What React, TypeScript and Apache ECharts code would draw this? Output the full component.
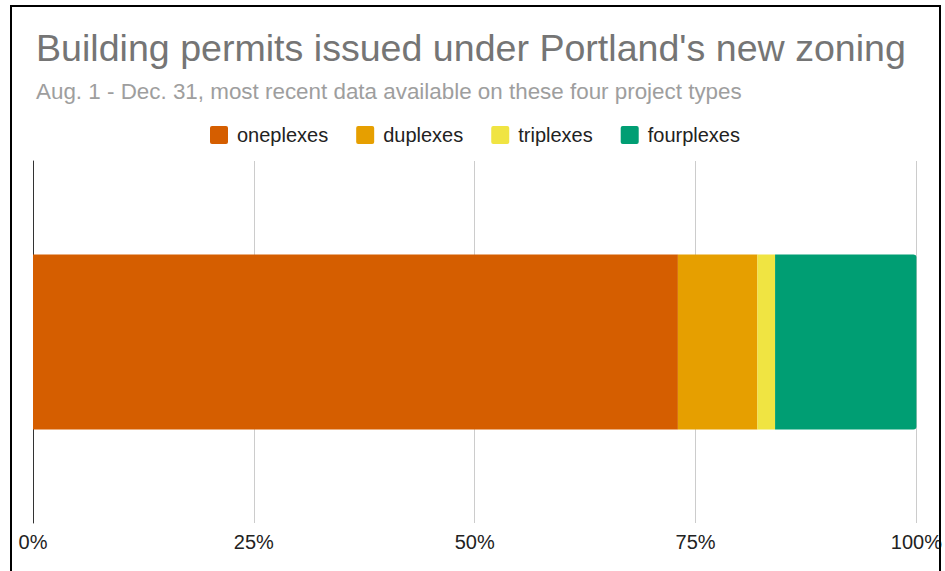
import React, { useEffect, useRef } from "react";
import * as echarts from "echarts";

const categories = ["Permits"];
const seriesNames = ["oneplexes", "duplexes", "triplexes", "fourplexes"];
const seriesValues = [73, 9, 2, 16];
const seriesColors = ["#D55E00", "#E69F00", "#F0E442", "#009E73"];
const tickValues = [0, 25, 50, 75, 100];

export default function App() {
  const ref = useRef<HTMLDivElement>(null);
  useEffect(() => {
    if (!ref.current) return;
    const chart = echarts.init(ref.current, undefined, { renderer: "svg" });
    const total = seriesValues.reduce((a, b) => a + b, 0);
    const font = "Arial, 'Liberation Sans', sans-serif";
    chart.setOption({
      animation: false,
      title: {
        text: "Building permits issued under Portland's new zoning",
        subtext: "Aug. 1 - Dec. 31, most recent data available on these four project types",
        left: 31,
        top: 24,
        itemGap: 13,
        textStyle: { fontFamily: font, fontSize: 37.6, fontWeight: "normal", color: "#757575" },
        subtextStyle: { fontFamily: font, fontSize: 22.4, color: "#9e9e9e" },
      },
      legend: {
        top: 120,
        left: 205,
        itemWidth: 18,
        itemHeight: 18,
        itemGap: 28,
        icon: "path://M2,0 L16,0 Q18,0 18,2 L18,16 Q18,18 16,18 L2,18 Q0,18 0,16 L0,2 Q0,0 2,0 Z",
        textStyle: { fontFamily: font, fontSize: 20, color: "#222", padding: [0, 0, 0, 4] },
        data: seriesNames,
      },
      grid: { left: 33, right: 28, top: 161, bottom: 48 },
      xAxis: {
        type: "value",
        min: 0,
        max: 100,
        interval: 25,
        axisLine: { show: false },
        axisTick: { show: false },
        splitLine: { lineStyle: { color: "#cccccc", width: 1 } },
        axisLabel: {
          fontFamily: font,
          fontSize: 20,
          color: "#222",
          margin: 9,
          formatter: (v: number) => (tickValues.includes(v) ? v + "%" : ""),
        },
      },
      yAxis: {
        type: "category",
        data: categories,
        axisLine: { show: true, lineStyle: { color: "#333", width: 1 } },
        axisTick: { show: false },
        axisLabel: { show: false },
      },
      series: seriesNames.map((name, i) => ({
        name,
        type: "bar",
        stack: "total",
        barWidth: 175,
        itemStyle: {
          color: seriesColors[i],
          borderRadius: i === seriesNames.length - 1 ? [0, 3, 3, 0] : 0,
        },
        data: [(seriesValues[i] / total) * 100],
      })),
    });
    return () => chart.dispose();
  }, []);
  return (
    <div style={{ position: "fixed", left: 0, top: 0, width: 945, height: 571, background: "#fff", overflow: "hidden" }}>
      <div ref={ref} style={{ position: "absolute", left: 0, top: 0, width: 945, height: 571 }} />
      <div
        style={{
          position: "absolute",
          left: 10,
          top: 5,
          width: 931,
          height: 700,
          boxSizing: "border-box",
          borderTop: "2px solid #000",
          borderLeft: "2px solid #000",
          borderRight: "2px solid #000",
          pointerEvents: "none",
        }}
      />
    </div>
  );
}
